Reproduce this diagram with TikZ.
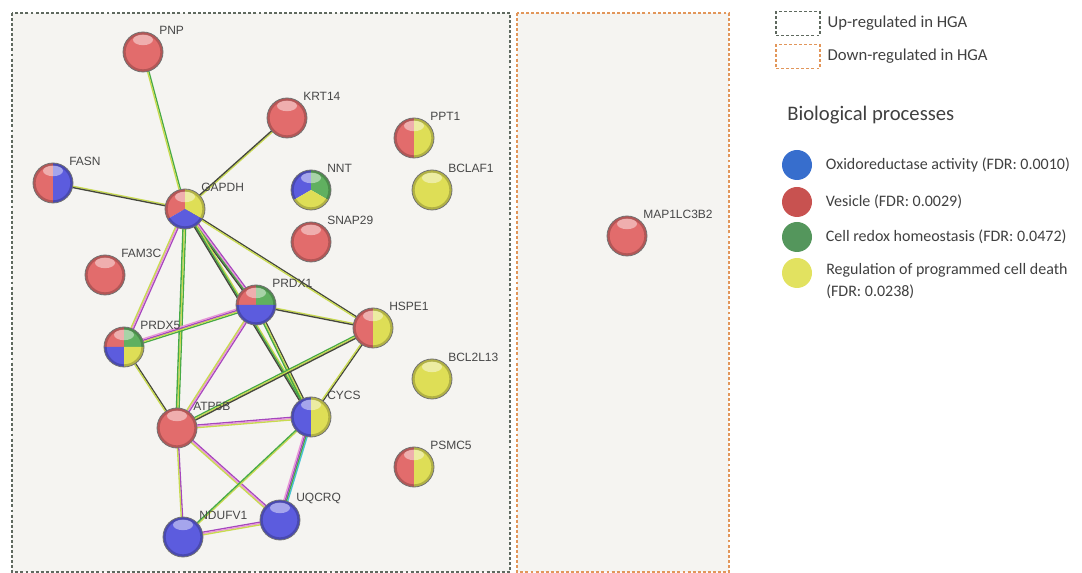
\documentclass[tikz,border=0pt]{standalone}
\usepackage{fontspec}
\setmainfont{Carlito}
\newfontfamily\labfont{Liberation Sans}
\usetikzlibrary{calc,positioning}

\definecolor{ndblue}{RGB}{92,92,222}
\definecolor{ndred}{RGB}{226,108,108}
\definecolor{ndgreen}{RGB}{96,176,96}
\definecolor{ndyellow}{RGB}{222,222,86}
\definecolor{lgblue}{RGB}{55,110,205}
\definecolor{lgred}{RGB}{200,82,80}
\definecolor{lggreen}{RGB}{84,150,92}
\definecolor{lgyellow}{RGB}{226,226,96}
\definecolor{upcol}{RGB}{95,105,95}
\definecolor{downcol}{RGB}{226,150,90}
\definecolor{boxfill}{RGB}{245,244,241}
\definecolor{tm}{RGB}{200,218,80}
\definecolor{cx}{RGB}{70,72,60}
\definecolor{ex}{RGB}{165,70,190}
\definecolor{hm}{RGB}{232,150,215}
\definecolor{gn}{RGB}{70,170,70}
\definecolor{db}{RGB}{70,195,215}

\pgfdeclarelayer{back}
\pgfdeclarelayer{links}
\pgfsetlayers{back,links,main}

% protein sphere: name, position, sectors (start/end/colour)
\newcommand{\gene}[3]{%
  \node[gene] (#1) at (#2) {};
  \foreach \sa/\sb/\sc in {#3}
    \fill[\sc] (#1.center) -- ++(-\sa:15pt) arc[start angle=-\sa, end angle=-\sb, radius=15pt] -- cycle;
  \fill[white, opacity=0.45] ($(#1.center)!0.6!(#1.north)$) ellipse[x radius=7.5pt, y radius=4pt];
  \draw[black, opacity=0.2, line width=2pt] (#1.center) circle[radius=14pt];
  \draw[black!55, line width=0.6pt] (#1.center) circle[radius=15pt];
  \node[glabel] (#1-l) at ($(#1.center)+(16,-22)$) {#1};
}
% evidence lines between two proteins
\newcommand{\bundle}[3]{%
  \foreach \off/\col in {#3}
    \draw[\col, line width=1pt] ($(#1)!\off!90:(#2)$) -- ($(#2)!\off!-90:(#1)$);
}

\begin{document}
\begin{tikzpicture}[x=0.75pt,y=0.75pt,yscale=-1,xscale=1,
  gene/.style={circle, minimum size=30pt, inner sep=0pt},
  glabel/.style={font=\labfont\fontsize{9}{10}\selectfont, text=black!72, inner sep=0pt, anchor=west},
  upframe/.style={draw=upcol, line width=1pt, dash pattern=on 2.2pt off 1.6pt},
  downframe/.style={draw=downcol, line width=1pt, dash pattern=on 2.2pt off 1.6pt},
  keybox/.style={minimum width=33pt, minimum height=18pt, inner sep=0pt},
  keydot/.style={circle, minimum size=22.5pt, inner sep=0pt},
  keytext/.style={font=\fontsize{12.5}{16}\selectfont, text=black!75, inner sep=0pt, anchor=west, align=left},
  keyentry/.style={keytext, font=\fontsize{12}{17}\selectfont},
]
\useasboundingbox (0,0) rectangle (1082,573);

% frames
\begin{pgfonlayer}{back}
\draw[upframe, fill=boxfill] (12,13) rectangle (510,572);
\draw[downframe, fill=boxfill] (517,13) rectangle (729,572);
\end{pgfonlayer}

% proteins
\gene{PNP}{143,52}{0/360/ndred}
\gene{KRT14}{287,118}{0/360/ndred}
\gene{FASN}{53,183}{90/270/ndred,270/450/ndblue}
\gene{GAPDH}{185,209}{90/210/ndred,330/450/ndyellow,210/330/ndblue}
\gene{FAM3C}{105,275}{0/360/ndred}
\gene{PPT1}{414,138}{90/270/ndred,270/450/ndyellow}
\gene{NNT}{311,190}{90/210/ndblue,330/450/ndgreen,210/330/ndyellow}
\gene{BCLAF1}{432,190}{0/360/ndyellow}
\gene{SNAP29}{311,242}{0/360/ndred}
\gene{PRDX1}{256,305}{90/180/ndred,0/90/ndgreen,180/360/ndblue}
\gene{PRDX5}{124,347}{90/180/ndred,0/90/ndgreen,180/270/ndblue,270/360/ndyellow}
\gene{HSPE1}{373,328}{90/270/ndred,270/450/ndyellow}
\gene{BCL2L13}{432,379}{0/360/ndyellow}
\gene{ATP5B}{177,428}{0/360/ndred}
\gene{CYCS}{311,417}{90/270/ndblue,270/450/ndyellow}
\gene{PSMC5}{414,467}{90/270/ndred,270/450/ndyellow}
\gene{UQCRQ}{280,520}{0/360/ndblue}
\gene{NDUFV1}{183,537}{0/360/ndblue}
\gene{MAP1LC3B2}{627,236}{0/360/ndred}

% interactions
\begin{pgfonlayer}{links}
\bundle{PNP}{GAPDH}{-0.5pt/gn,0.5pt/tm}
\bundle{KRT14}{GAPDH}{-0.5pt/tm,0.5pt/cx}
\bundle{FASN}{GAPDH}{-0.5pt/tm,0.5pt/cx}
\bundle{GAPDH}{PRDX5}{-1pt/ex,0pt/hm,1pt/tm}
\bundle{GAPDH}{ATP5B}{-1pt/gn,0pt/tm,1pt/gn}
\bundle{GAPDH}{PRDX1}{-1.5pt/ex,-0.5pt/hm,0.5pt/gn,1.5pt/cx}
\bundle{GAPDH}{CYCS}{-1pt/tm,0pt/gn,1pt/cx}
\bundle{GAPDH}{HSPE1}{-0.5pt/cx,0.5pt/tm}
\bundle{PRDX1}{PRDX5}{-1.5pt/gn,-0.5pt/tm,0.5pt/ex,1.5pt/hm}
\bundle{PRDX1}{HSPE1}{-0.5pt/tm,0.5pt/cx}
\bundle{PRDX1}{ATP5B}{-1pt/ex,0pt/hm,1pt/tm}
\bundle{PRDX1}{CYCS}{-1pt/cx,0pt/tm,1pt/gn}
\bundle{PRDX5}{ATP5B}{-0.5pt/cx,0.5pt/tm}
\bundle{ATP5B}{HSPE1}{-1pt/gn,0pt/tm,1pt/cx}
\bundle{HSPE1}{CYCS}{-0.5pt/cx,0.5pt/tm}
\bundle{ATP5B}{CYCS}{-1pt/ex,0pt/hm,1pt/tm}
\bundle{ATP5B}{UQCRQ}{-1pt/ex,0pt/hm,1pt/tm}
\bundle{ATP5B}{NDUFV1}{-0.5pt/ex,0.5pt/tm}
\bundle{CYCS}{NDUFV1}{-0.5pt/tm,0.5pt/gn}
\bundle{CYCS}{UQCRQ}{-1.5pt/db,-0.5pt/gn,0.5pt/ex,1.5pt/hm}
\bundle{NDUFV1}{UQCRQ}{-1pt/ex,0pt/hm,1pt/tm}
\end{pgfonlayer}

% legend
\node[keybox, upframe] (kup) at (798,23.5) {};
\node[keytext, right=5pt of kup] (tup) {Up-regulated in HGA};
\node[keybox, downframe] (kdown) at (798,56.5) {};
\node[keytext, right=5pt of kdown] (tdown) {Down-regulated in HGA};
\node[keytext, font=\fontsize{15.5}{18}\selectfont] (tbio) at (787,115) {Biological processes};
\node[keydot, fill=lgblue] (dox) at (797,165) {};
\node[keyentry, right=10pt of dox] (tox) {Oxidoreductase activity (FDR: 0.0010)};
\node[keydot, fill=lgred] (dves) at (797,202) {};
\node[keyentry, right=10pt of dves] (tves) {Vesicle (FDR: 0.0029)};
\node[keydot, fill=lggreen] (dred) at (797,237) {};
\node[keyentry, right=10pt of dred] (tred) {Cell redox homeostasis (FDR: 0.0472)};
\node[keydot, fill=lgyellow] (dpcd) at (797,273) {};
\node[keyentry] (tpcd) at (826,281) {Regulation of programmed cell death\\(FDR: 0.0238)};

\end{tikzpicture}
\end{document}
